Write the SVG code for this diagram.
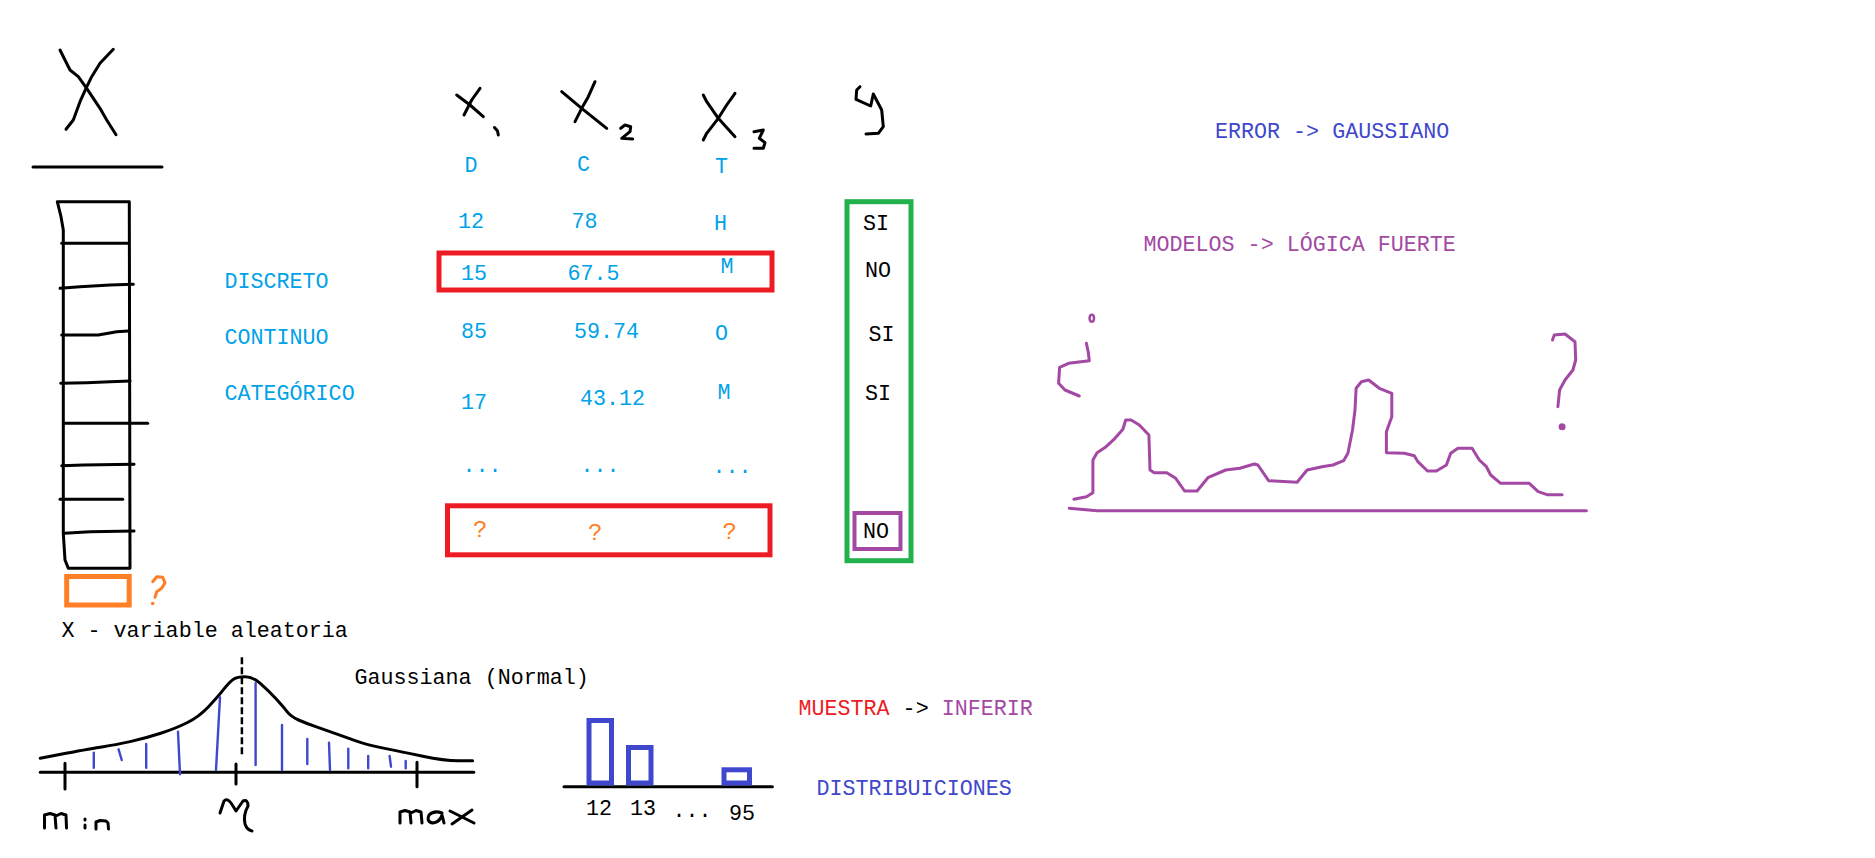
<svg xmlns="http://www.w3.org/2000/svg" width="1875" height="858" viewBox="0 0 1875 858">
<style>
text{font-family:"Liberation Mono","DejaVu Sans Mono",monospace;font-size:21.7px}
.b{fill:#00a2e8}.k{fill:#000}.o{fill:#ff7f27}.ind{fill:#3f48cc}.pu{fill:#a349a4}.r{fill:#ed1c24}
.ink{fill:none;stroke:#000;stroke-width:3;stroke-linecap:round;stroke-linejoin:round}
.blu{fill:none;stroke:#3f48cc;stroke-width:2.4;stroke-linecap:round}
.pur{fill:none;stroke:#a349a4;stroke-width:3;stroke-linecap:round;stroke-linejoin:round}
.box{fill:none;stroke-width:5}
</style>
<rect width="1875" height="858" fill="#fff"/>

<g id="variable-X">
<path class="ink" d="M60,50 L65,60 L70,70 L78.3,76.7 L86.7,88.3 L100,108.3 L106.7,120 L116,134.7"/>
<path class="ink" d="M113.3,49.3 L100,63.3 L91.7,76.7 L86,88.3 L80,101.7 L73.3,120 L66,129.3"/>
<path class="ink" d="M33,167 L162,167"/>
</g>

<g id="column">
<path class="ink" d="M57.3,201.7 L129.3,201.7 L130,568.3 L68.3,568.3 L65,560 L63.3,533.3 L63.3,230 L61,216.7 Z"/>
<path class="ink" d="M61.7,243.3 L127.3,243.3"/>
<path class="ink" d="M60,288.3 L80,286.7 L110,285 L133.3,284.3"/>
<path class="ink" d="M61.7,335 L98.3,335 L116.7,331.7 L128.3,331"/>
<path class="ink" d="M60.7,383.3 L86.7,382.7 L110,381.7 L130,381"/>
<path class="ink" d="M64,423.3 L147.7,423.3"/>
<path class="ink" d="M61.7,465.7 L83.3,465 L134,464.3"/>
<path class="ink" d="M60,499.3 L122.7,499.3"/>
<path class="ink" d="M64.3,533.3 L90,531.7 L134,531"/>
<rect x="66.7" y="576.5" width="62.5" height="28.5" fill="none" stroke="#ff7f27" stroke-width="5"/>
<path d="M152.7,581.7 L156.7,576.7 L162.7,577.3 L165,582.7 L161.7,588.3 L156.7,591.7 L155,597.3" fill="none" stroke="#ff7f27" stroke-width="3" stroke-linecap="round" stroke-linejoin="round"/>
<circle cx="152.7" cy="603.5" r="1.8" fill="#ff7f27"/>
<text x="61.5" y="637" class="k">X - variable aleatoria</text>
</g>

<g id="types">
<text x="224.5" y="287.7" class="b">DISCRETO</text>
<text x="224.5" y="344" class="b">CONTINUO</text>
<text x="224.5" y="400" class="b">CATEGÓRICO</text>
</g>

<g id="headers">
<path class="ink" d="M456.7,95 L470,105 L483.3,116.7"/>
<path class="ink" d="M480,88.3 L471.7,100 L464,115"/>
<path class="ink" d="M494.5,127.5 L497.5,131 L498.3,135"/>
<path class="ink" d="M561.7,91.7 L581.7,108.3 L606.7,128.3"/>
<path class="ink" d="M595,81.7 L588.3,96.7 L581.7,108.3 L575,121.7"/>
<path class="ink" d="M620.7,128.3 L625,125 L630.7,126.7 L630,131.7 L621.7,138.3 L632.7,139"/>
<path class="ink" d="M703.3,95 L706.7,101.7 L718.3,118.3 L735,136.7"/>
<path class="ink" d="M735,93.3 L726.7,105 L718.3,118.3 L706.7,133.3 L703.3,140"/>
<path class="ink" d="M754,131.7 L763.3,130 L759.3,138.3 L765,142.7 L763.3,148.3 L754,148.3"/>
<path class="ink" d="M860,86.7 L856.7,90 L856,99.3 L870.7,106 L873.3,94 L881.7,110 L883.3,126.7 L878.3,133.3 L866,134"/>
<text x="464.5" y="172" class="b">D</text>
<text x="577" y="171" class="b">C</text>
<text x="715" y="173" class="b">T</text>
</g>

<g id="data">
<text x="458" y="228.3" class="b">12</text>
<text x="571.5" y="228.3" class="b">78</text>
<text x="714" y="230" class="b">H</text>
<text x="461" y="280" class="b">15</text>
<text x="567.5" y="280" class="b">67.5</text>
<text x="720.5" y="273.3" class="b">M</text>
<text x="461" y="338.3" class="b">85</text>
<text x="574" y="338.3" class="b">59.74</text>
<text x="715" y="340" class="b">O</text>
<text x="461" y="409.3" class="b">17</text>
<text x="580" y="405" class="b">43.12</text>
<text x="717.5" y="399.3" class="b">M</text>
<text x="462.5" y="471.7" class="b">...</text>
<text x="580.5" y="471.7" class="b">...</text>
<text x="712.6" y="473" class="b">...</text>
<rect x="439" y="253" width="333" height="37" class="box" stroke="#ed1c24"/>
<rect x="447.5" y="505.8" width="322.5" height="49" class="box" stroke="#ed1c24"/>
<text x="473" y="537.3" class="o" style="font-size:24px">?</text>
<text x="588" y="540" class="o" style="font-size:24px">?</text>
<text x="722.5" y="539.3" class="o" style="font-size:24px">?</text>
</g>

<g id="target-y">
<rect x="847" y="201.7" width="64" height="359" class="box" stroke="#22b14c" stroke-width="5.5"/>
<text x="863" y="230" class="k">SI</text>
<text x="865" y="276.7" class="k">NO</text>
<text x="868.5" y="341" class="k">SI</text>
<text x="865" y="400" class="k">SI</text>
<rect x="854.5" y="513" width="46" height="36" fill="none" stroke="#a349a4" stroke-width="4"/>
<text x="863" y="538.3" class="k">NO</text>
</g>

<g id="gaussian">
<path class="ink" d="M40.2,772.3 L473.8,772.3" stroke-width="4.5"/>
<path class="ink" d="M65,763.3 L65,789 M236,764 L236,784 M417,762.3 L417,786.7"/>
<path class="ink" d="M40.2,758.3 L66,753.3 Q91.8,748.3 103.3,746.65 Q114.8,745 130.1,741.65 Q145.4,738.3 160.7,733.3 Q176,728.3 187.5,722.5 Q199,716.7 208.5,706.7 Q218,696.7 223.8,689.2 Q229.6,681.7 233.45,679.2 Q237.3,676.7 244.95,676.7 Q252.6,676.7 260.25,683.35 Q267.9,690 275.55,698.35 Q283.2,706.7 287.05,711.7 Q290.9,716.7 298.55,720 Q306.2,723.3 315.75,726.65 Q325.3,730 334.85,733.35 Q344.4,736.7 355.9,740.85 Q367.4,745 384.6,748.35 Q401.8,751.7 422.85,756.2 Q443.9,760.7 458.25,760.7 L472.6,760.7"/>
<path d="M241.9,657.3 L241.9,756.7" fill="none" stroke="#000" stroke-width="2.5" stroke-dasharray="7 3"/>
<path class="blu" d="M93.8,752.7 L93.8,767.7 M118.6,749.3 L121.7,760 M146.2,744 L146.2,767.7 M178,731.7 L180,774.3 M220,697.3 L216,770 M255.6,683.3 L255.6,765 M282,725 L282,770 M307.3,739 L307.3,764 M329,742.7 L330,770 M348.3,748.7 L348.3,768.3 M368.2,756 L368.2,768.3 M389.6,756 L391,766.7 M405.7,761 L405.7,768.3"/>
<path class="ink" d="M44.5,828 L44.5,815 L50,813.5 L55,815 L56,828 M56,816 L61,813.5 L66,815 L66.5,828"/>
<path class="ink" d="M85,819 L85,820 M85,825 L85,828"/>
<path class="ink" d="M96,829 L96,822 L100,820.5 L106,821 L108,823 L108.5,829"/>
<path class="ink" d="M220,813 L224,801 Q228,797 233,806 L236,811 L243,801 Q248,799 248,806 Q243,815 245,824 Q247,830 252,831"/>
<path class="ink" d="M400,823 L400,812 L405,810.5 L410,812 L411,823 M411,813 L416,810.5 L421,812 L422,823"/>
<path class="ink" d="M442,813 Q434,810 429,815 Q426,822 433,823 Q440,822 442,815 L444,823"/>
<path class="ink" d="M450,811 L474,823 M472,810 L452,824"/>
<text x="354.5" y="684.3" class="k">Gaussiana (Normal)</text>
</g>

<g id="histogram">
<path class="ink" d="M564,786.7 L772.4,786.7" stroke-width="4"/>
<rect x="589" y="720.5" width="22.5" height="62.5" fill="none" stroke="#3f48cc" stroke-width="5"/>
<rect x="628.5" y="747.5" width="22.5" height="35.5" fill="none" stroke="#3f48cc" stroke-width="5"/>
<rect x="724" y="769.8" width="25.5" height="13.2" fill="none" stroke="#3f48cc" stroke-width="5"/>
<text x="586" y="815" class="k">12</text>
<text x="630" y="815" class="k">13</text>
<text x="672.5" y="817.3" class="k">...</text>
<text x="729" y="820" class="k">95</text>
</g>

<g id="notes">
<text x="798.5" y="715"><tspan class="r">MUESTRA</tspan><tspan class="k"> -&gt; </tspan><tspan class="pu">INFERIR</tspan></text>
<text x="816.5" y="795" class="ind">DISTRIBUICIONES</text>
<text x="1215" y="138.3" class="ind">ERROR -&gt; GAUSSIANO</text>
<text x="1143.5" y="251" class="pu">MODELOS -&gt; LÓGICA FUERTE</text>
</g>

<g id="landscape">
<path class="pur" d="M1069.3,508.3 L1097,510.7 L1586.4,510.7"/>
<polyline class="pur" points="1073.9,499.3 1086.4,496.7 1092.9,492.7 1092.9,460 1097.1,452.7 1106.1,446.7 1115,438.3 1122.9,429.3 1125.7,420 1131.1,420 1139.3,425 1148.9,435 1150,470 1154.3,472.7 1166.8,472.7 1175.7,478.3 1184.6,491 1197.1,491 1207.9,477.7 1225.7,470 1240,468.3 1254.3,464 1257.9,465 1268.6,480.7 1297.1,482.3 1307.1,470 1322.1,466.7 1332.9,465 1343.6,460.7 1347.9,453.3 1352.5,430 1355,410 1356.1,388.3 1361.4,381.7 1368.6,380 1379.3,388.3 1391.8,393.3 1391.8,416.7 1386.4,431.7 1386.4,452.7 1404.3,453.3 1414.3,455.7 1417.9,461.7 1427.5,471 1436.4,471 1446.4,465 1450.7,453.3 1457.9,448.3 1472.1,448.3 1479.3,460 1486.4,466.7 1490.7,475 1500.7,483.3 1529.3,483.3 1538.2,491.7 1547.1,494.7 1562.1,494.7"/>
<ellipse cx="1091.8" cy="318.3" rx="2.2" ry="3.5" fill="none" stroke="#a349a4" stroke-width="2.5"/>
<path class="pur" d="M1086.4,343.3 L1088.2,351.7 L1089.3,360.7 L1068.6,363.3 L1059.6,367.3 L1058.6,383.3 L1065,390 L1079.3,396"/>
<path class="pur" d="M1552.5,340 L1554.3,335 L1565,334 L1575,341.7 L1575.7,360 L1572.9,370 L1565,380 L1559.6,390 L1557.9,406.7"/>
<circle cx="1562.1" cy="426.7" r="3.5" fill="#a349a4"/>
</g>
</svg>
